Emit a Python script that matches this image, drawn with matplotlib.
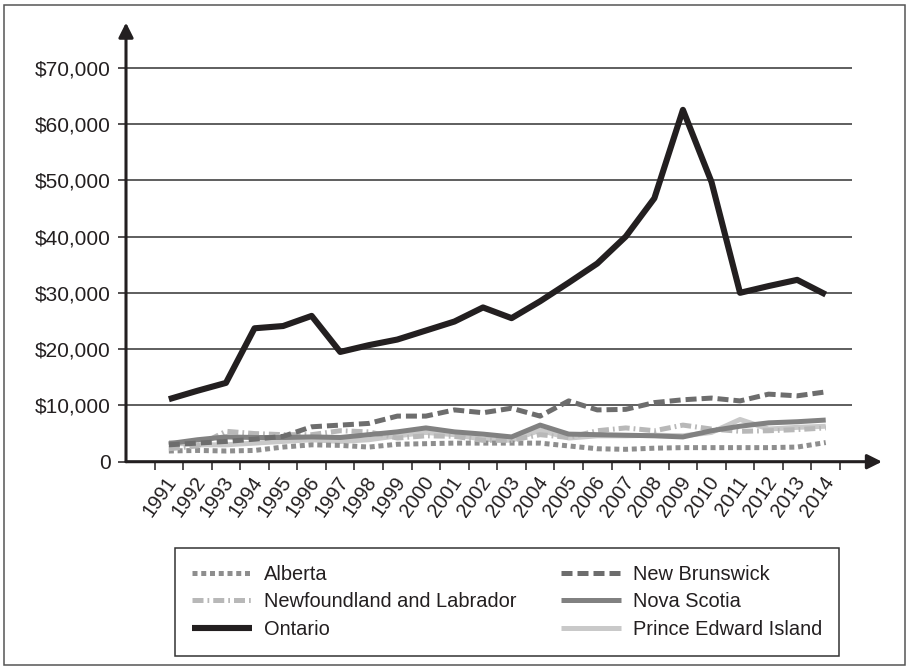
import numpy as np
import matplotlib
matplotlib.use('Agg')
import matplotlib.pyplot as plt
import matplotlib.transforms as mtransforms
from matplotlib.patches import Rectangle
from matplotlib.ticker import FuncFormatter

plt.rcParams['font.family'] = ['Liberation Sans', 'DejaVu Sans']

years = [str(y) for y in range(1991, 2015)]

alberta = [1900, 2000, 1900, 2000, 2600, 3000, 2900, 2600, 3100, 3200, 3300, 3300,
           3300, 3300, 2800, 2300, 2200, 2400, 2500, 2500, 2500, 2500, 2600, 3400]
new_brunswick = [3000, 3300, 3600, 4000, 4500, 6200, 6500, 6800, 8100, 8100, 9200, 8700,
                 9500, 8100, 10800, 9200, 9300, 10500, 11000, 11300, 10800, 12000, 11700, 12400]
newfoundland = [2300, 2800, 5400, 5000, 4800, 4800, 5500, 5300, 4200, 4600, 4500, 3800,
                3800, 4800, 4300, 5500, 6000, 5500, 6500, 5800, 5400, 5500, 5700, 6000]
nova_scotia = [3200, 3900, 4400, 4300, 4300, 4400, 4300, 4800, 5300, 6000, 5300, 4900,
               4400, 6500, 4900, 4800, 4700, 4600, 4400, 5500, 6300, 6900, 7100, 7400]
ontario = [11100, 12600, 14000, 23700, 24100, 25900, 19500, 20700, 21700, 23300, 24900, 27400,
           25500, 28500, 31800, 35200, 40000, 46800, 62500, 49700, 30000, 31200, 32300, 29700]
pei = [3400, 3000, 3000, 3300, 3600, 3900, 3600, 3900, 4600, 5200, 4800, 4000,
       3800, 5600, 4200, 4600, 4600, 4700, 4600, 5200, 7500, 5800, 6100, 6300]

yticks = [0, 10000, 20000, 30000, 40000, 50000, 60000, 70000]

fig = plt.figure(figsize=(9.11, 6.70), dpi=100)
ax = fig.add_axes([126/911, 1 - 461.7/670, 726/911, (461.7 - 22.6)/670])

x = np.arange(len(years))
dark = '#231f20'

l_pei, = ax.plot(x, pei, color='#c9c9c9', lw=3.6, solid_capstyle='butt', label='Prince Edward Island')
l_alb, = ax.plot(x, alberta, color='#8e8e8e', lw=3.6, linestyle=(0, (1.0, 0.75)),
                 dash_capstyle='butt', label='Alberta')
l_nl, = ax.plot(x, newfoundland, color='#b8b8b8', lw=3.6, linestyle=(0, (2.2, 0.8, 0.35, 0.8)),
                dash_capstyle='butt', label='Newfoundland and Labrador')
l_ns, = ax.plot(x, nova_scotia, color='#818181', lw=3.6, solid_capstyle='butt', label='Nova Scotia')
l_nb, = ax.plot(x, new_brunswick, color='#6d6d6d', lw=3.6, linestyle=(0, (2.2, 1.0)),
                dash_capstyle='butt', label='New Brunswick')
l_on, = ax.plot(x, ontario, color=dark, lw=4.4, solid_capstyle='butt', label='Ontario')

ax.set_xlim(-1.5, 23.92)
ax.set_ylim(0, 78000)

for s in ax.spines.values():
    s.set_visible(False)

# gridlines
for v in yticks[1:]:
    ax.axhline(v, color='#333333', lw=1.1, zorder=0)

# axis arrows
ax.annotate('', xy=(24.97, 0), xytext=(-1.5, 0), annotation_clip=False,
            arrowprops=dict(arrowstyle='-|>', lw=2.2, color=dark, mutation_scale=22,
                            shrinkA=0, shrinkB=0))
ax.annotate('', xy=(-1.5, 78000), xytext=(-1.5, 0), annotation_clip=False,
            arrowprops=dict(arrowstyle='-|>', lw=2.2, color=dark, mutation_scale=22,
                            shrinkA=0, shrinkB=0))

ax.set_yticks(yticks)
ax.yaxis.set_major_formatter(FuncFormatter(lambda v, p: '0' if v == 0 else '${:,.0f}'.format(v)))
ax.tick_params(axis='y', length=6, width=1.1, color=dark, pad=5, labelsize=15, labelcolor=dark)

ax.set_xticks(np.arange(-0.5, 24, 1))
ax.set_xticklabels([])
ax.tick_params(axis='x', which='major', length=6, width=1.1, color=dark)
ax.set_xticks(x, years, minor=True)
ax.tick_params(axis='x', which='minor', length=0, pad=12, labelsize=14.4, labelcolor=dark)
shift = mtransforms.ScaledTranslation(4/100, 0, fig.dpi_scale_trans)
for t in ax.get_xticklabels(minor=True):
    t.set_rotation(55)
    t.set_ha('right')
    t.set_va('center')
    t.set_rotation_mode('anchor')
    t.set_transform(t.get_transform() + shift)

handles = [l_alb, l_nl, l_on, l_nb, l_ns, l_pei]
leg = fig.legend(handles, [h.get_label() for h in handles], ncol=2, loc='upper left',
                 bbox_to_anchor=(175/911, 1 - 655/670, 664/911, 107/670), mode='expand',
                 borderaxespad=0, fontsize=14.4, handlelength=3.0, handletextpad=0.6,
                 labelspacing=0.42, borderpad=0.85, fancybox=False, framealpha=1,
                 edgecolor='#333333')
leg.get_frame().set_linewidth(1.1)
for t in leg.get_texts():
    t.set_color(dark)

fig.patches.append(Rectangle((4/911, 5/670), 901/911, 660/670, transform=fig.transFigure,
                             fill=False, edgecolor='#555555', lw=1.1))

fig.savefig('out.png', dpi=100)
